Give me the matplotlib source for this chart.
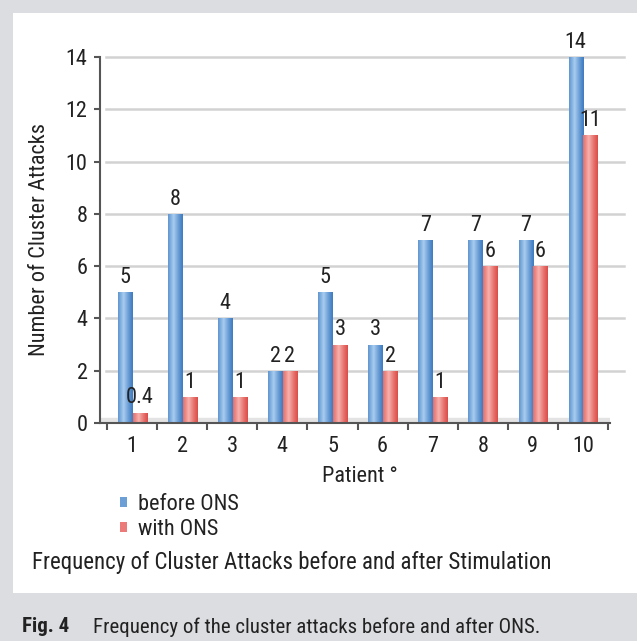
import matplotlib
matplotlib.use('Agg')
import matplotlib.pyplot as plt
import numpy as np
from matplotlib import font_manager as fm
from matplotlib.patches import Rectangle, Patch
from matplotlib.colors import LinearSegmentedColormap

# ---------------- data ----------------
patients = [1, 2, 3, 4, 5, 6, 7, 8, 9, 10]
before_ons = [5, 8, 4, 2, 5, 3, 7, 7, 7, 14]
with_ons = [0.4, 1, 1, 2, 3, 2, 1, 6, 6, 11]
before_labels = ['5', '8', '4', '2', '5', '3', '7', '7', '7', '14']
with_labels = ['0.4', '1', '1', '2', '3', '2', '1', '6', '6', '11']
y_ticks = [0, 2, 4, 6, 8, 10, 12, 14]
series_names = ['before ONS', 'with ONS']
x_title = 'Patient \u00b0'
y_title = 'Number of Cluster Attacks'
chart_caption = 'Frequency of Cluster Attacks before and after Stimulation'
fig_label = 'Fig. 4'
fig_caption = 'Frequency of the cluster attacks before and after ONS.'

# ---------------- fonts ----------------
names = {f.name for f in fm.fontManager.ttflist}
family = 'DejaVu Sans'
for cand in ['Liberation Sans Narrow', 'Roboto Condensed', 'Open Sans Condensed']:
    if cand in names:
        family = cand
        break
plt.rcParams['font.family'] = [family, 'DejaVu Sans']
fs = 16
fs_title = 16.5
fs_cap = 15
txt_color = '#222222'
plt.rcParams['text.color'] = txt_color
plt.rcParams['xtick.color'] = txt_color
plt.rcParams['ytick.color'] = txt_color

W, H = 637, 641
fig = plt.figure(figsize=(W / 100, H / 100), dpi=100, facecolor='#dcdde0')
fig.patches.append(Rectangle((13 / W, (H - 593) / H), (W - 13) / W, (593 - 13) / H,
                             transform=fig.transFigure, facecolor='white',
                             edgecolor='none', zorder=-10))

ax = fig.add_axes([100 / W, (H - 423) / H, 510 / W, 366 / H])
ax.set_facecolor('none')
ax.set_zorder(2)

x = np.array(patients, dtype=float)
bw = 0.28
blue_dark, blue_light = '#3f7cc2', '#a9cdf0'
red_dark, red_light = '#dc4e4a', '#f8b1ad'


def grad_img(dark, light):
    t = np.linspace(0, 1, 64)
    prof = np.clip(1 - np.abs(t - 0.38) / 0.62, 0, 1) ** 1.2
    cmap = LinearSegmentedColormap.from_list('g', [dark, light])
    return cmap(prof)[None, :, :]


def gradient_bars(xs, vals, dark, light):
    bars = ax.bar(xs, vals, width=bw, color=dark, edgecolor='none', zorder=2)
    img = grad_img(dark, light)
    for b in bars:
        x0, y0 = b.get_xy()
        im = ax.imshow(img, extent=[x0, x0 + b.get_width(), y0, y0 + b.get_height()],
                       aspect='auto', zorder=2.1, interpolation='bilinear')
        im.set_clip_path(b)
    return bars


gradient_bars(x - 0.145, before_ons, blue_dark, blue_light)
gradient_bars(x + 0.15, with_ons, red_dark, red_light)

for xi, v, lbl in zip(x - 0.145, before_ons, before_labels):
    ax.annotate(lbl, (xi, v), xytext=(0, 3), textcoords='offset points',
                ha='center', va='bottom', fontsize=fs, zorder=5)
for xi, v, lbl in zip(x + 0.15, with_ons, with_labels):
    ax.annotate(lbl, (xi, v), xytext=(0, 3), textcoords='offset points',
                ha='center', va='bottom', fontsize=fs, zorder=5)

# grid lines and floor
for yv in y_ticks[1:]:
    ax.axhline(yv, xmin=0.012, xmax=1.027, color='#d2d2d2', lw=1.8,
               clip_on=False, zorder=0.5)
ax.axhspan(0, 0.18, xmin=0, xmax=1.027, color='#e3e3e3', zorder=0.6)

ax.set_xlim(0.36, 10.54)
ax.set_ylim(0, 14)

ax.set_xticks(np.arange(0.5, 11, 1))
ax.set_xticklabels([])
ax.set_xticks(patients, minor=True)
ax.set_xticklabels([str(p) for p in patients], minor=True)
ax.tick_params(axis='x', which='major', length=5, width=1.5, color='#555555')
ax.tick_params(axis='x', which='minor', length=0, pad=9, labelsize=fs)
ax.set_yticks(y_ticks)
ax.set_yticklabels([str(v) for v in y_ticks])
ax.tick_params(axis='y', length=4, width=1.5, color='#555555', pad=5, labelsize=fs)

for s in ['top', 'right']:
    ax.spines[s].set_visible(False)
for s in ['left', 'bottom']:
    ax.spines[s].set_color('#555555')
    ax.spines[s].set_linewidth(1.5)

fig.text(40 / W, (H - 240) / H, y_title, rotation=90, ha='center', va='center', fontsize=fs)
fig.text(360 / W, (H - 477) / H, x_title, ha='center', va='center', fontsize=fs)

fig.legend(handles=[Patch(facecolor='#6c9fd6', edgecolor='none'),
                    Patch(facecolor='#ec7a78', edgecolor='none')],
           labels=series_names, loc='center left',
           bbox_to_anchor=(120 / W, (H - 517) / H), frameon=False,
           handlelength=0.3, handleheight=0.3, handletextpad=0.5,
           labelspacing=0.2, borderpad=0, borderaxespad=0, fontsize=fs)

fig.text(32 / W, (H - 563) / H, chart_caption, ha='left', va='center', fontsize=fs_title)
fig.text(22 / W, (H - 627) / H, fig_label, ha='left', va='center', fontsize=fs_cap,
         weight='bold')
fig.text(93 / W, (H - 627) / H, fig_caption, ha='left', va='center', fontsize=fs_cap)

fig.savefig('out.png', dpi=100, facecolor=fig.get_facecolor())
